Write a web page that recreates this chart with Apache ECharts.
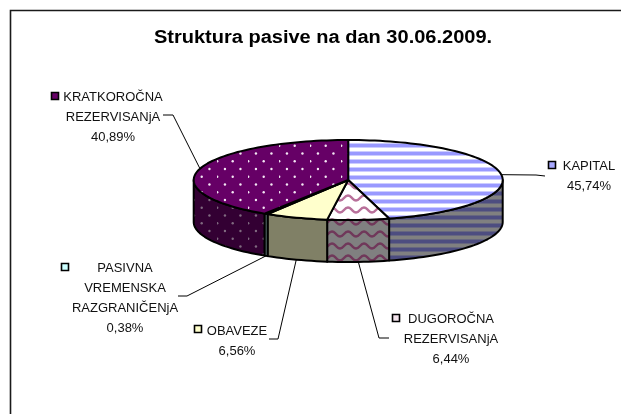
<!DOCTYPE html>
<html>
<head>
<meta charset="utf-8">
<title>Struktura pasive</title>
<style>
html,body{margin:0;padding:0;background:#fff;}
#chart{width:621px;height:414px;}
</style>
<script src="https://cdn.jsdelivr.net/npm/echarts@6/dist/echarts.min.js"></script>
</head>
<body>
<div id="chart"></div>
<script>
var titleText = 'Struktura pasive na dan 30.06.2009.';
var categories = ['KAPITAL', 'DUGOROČNA\nREZERVISANjA', 'OBAVEZE', 'PASIVNA\nVREMENSKA\nRAZGRANIČENjA', 'KRATKOROČNA\nREZERVISANjA'];
var values = [45.74, 6.44, 6.56, 0.38, 40.89];

// ellipse of the top face
var cx = 348.2, cy = 180, rx = 154.5, ry = 40, depth = 42;
var FONT = '"Liberation Sans", Arial, sans-serif';

// label layout, same order as categories
var textX = [589, 451, 237, 125, 113];
var textY = [166, 319, 331, 268, 97];
var keyPos = [[548, 161], [392, 314], [194, 325], [61, 263], [51, 92]];
var elbows = [[[536, 175], [545, 176]], [[379, 338], [389, 338]], [[278, 339], [269, 339]], [[187, 296], [178, 296]], [[173, 115], [163, 115]]];
var keyColors = ['#a8a8ff', '#f3e3ec', '#ffffcc', '#ccffff', '#660066'];

function newCanvas(w, h) {
    var c = document.createElement('canvas');
    c.width = w;
    c.height = h;
    return c;
}
function stripes(a, mid, b) {
    var c = newCanvas(4, 8), g = c.getContext('2d');
    var rows = [a, a, a, mid, b, b, b, mid];
    for (var i = 0; i < 8; i++) {
        g.fillStyle = rows[i];
        g.fillRect(0, i, 4, 1);
    }
    return {image: c, repeat: 'repeat'};
}
function dots(bg, fg) {
    var c = newCanvas(31, 31), g = c.getContext('2d');
    g.fillStyle = bg;
    g.fillRect(0, 0, 31, 31);
    g.fillStyle = fg;
    for (var r = 0; r < 4; r++) {
        var y = (21.7 + 7.75 * r) % 31;
        var x = (15.7 + 7.75 * r) % 15.5;
        for (; x < 31; x += 15.5) {
            g.beginPath();
            g.arc(x, y, 1.2, 0, Math.PI * 2);
            g.fill();
        }
    }
    return {image: c, repeat: 'repeat'};
}
function waves(bg, fg) {
    var c = newCanvas(16, 12), g = c.getContext('2d');
    g.fillStyle = bg;
    g.fillRect(0, 0, 16, 12);
    g.strokeStyle = fg;
    g.lineWidth = 2.4;
    g.beginPath();
    g.moveTo(-8, 6);
    g.quadraticCurveTo(-4, 1, 0, 6);
    g.quadraticCurveTo(4, 11, 8, 6);
    g.quadraticCurveTo(12, 1, 16, 6);
    g.quadraticCurveTo(20, 11, 24, 6);
    g.stroke();
    return {image: c, repeat: 'repeat'};
}

var topFills = [stripes('#9999ff', '#ccccff', '#ffffff'), waves('#ffffff', '#b8709a'), '#ffffcc', '#ccffff', dots('#660066', '#f4e8f4')];
var sideFills = [stripes('#4d4d80', '#666680', '#808080'), waves('#808080', '#70385a'), '#808066', '#668080', dots('#330033', '#806a80')];

var total = 0;
values.forEach(function (v) { total += v; });

function pt(deg, drop) {
    var a = deg * Math.PI / 180;
    return [cx + rx * Math.sin(a), cy - ry * Math.cos(a) + (drop || 0)];
}
function arc(a0, a1, drop) {
    var pts = [], n = Math.max(2, Math.ceil((a1 - a0) / 2));
    for (var i = 0; i <= n; i++) {
        pts.push(pt(a0 + (a1 - a0) * i / n, drop));
    }
    return pts;
}

function renderItem(params, api) {
    var i = params.dataIndex;
    var before = 0;
    for (var k = 0; k < i; k++) before += values[k];
    var a0 = before / total * 360;
    var a1 = (before + api.value(0)) / total * 360;
    var mid = (a0 + a1) / 2;
    var line = {stroke: '#000', lineWidth: 2, lineJoin: 'round'};
    var children = [];

    // outer wall, only the part facing the viewer
    var s0 = Math.max(a0, 90), s1 = Math.min(a1, 270);
    if (s1 > s0) {
        var wall = arc(s0, s1, 0).concat(arc(s0, s1, depth).reverse());
        children.push({
            type: 'polygon',
            shape: {points: wall},
            style: Object.assign({fill: sideFills[i]}, line)
        });
    }
    // top face
    children.push({
        type: 'polygon',
        z2: 5,
        shape: {points: [[cx, cy]].concat(arc(a0, a1, 0))},
        style: Object.assign({fill: topFills[i]}, line)
    });

    // leader line from the rim of the slice
    var front = mid > 90 && mid < 270;
    children.push({
        type: 'polyline',
        z2: 6,
        shape: {points: [pt(mid, front ? depth : 0)].concat(elbows[i])},
        style: {stroke: '#000', lineWidth: 1, fill: null}
    });
    // legend key
    children.push({
        type: 'rect',
        z2: 6,
        shape: {x: keyPos[i][0] + 0.5, y: keyPos[i][1] + 0.5, width: 7, height: 7},
        style: {fill: keyColors[i], stroke: '#000', lineWidth: 1.6}
    });
    // label text
    children.push({
        type: 'text',
        z2: 6,
        style: {
            x: textX[i],
            y: textY[i] - 10,
            text: categories[i] + '\n' + values[i].toFixed(2).replace('.', ',') + '%',
            align: 'center',
            verticalAlign: 'top',
            fontFamily: FONT,
            fontSize: 13,
            lineHeight: 20,
            fill: '#111'
        }
    });
    return {type: 'group', children: children};
}

var myChart = echarts.init(document.getElementById('chart'), null, {renderer: 'canvas'});
var option = {
    animation: false,
    backgroundColor: '#fff',
    graphic: [{
        type: 'polyline',
        shape: {points: [[10.5, 414], [10.5, 10.5], [621, 10.5]]},
        style: {stroke: '#1a1a1a', lineWidth: 1.6, fill: null}
    }, {
        // the reference title is set wider than the font, so stretch it
        type: 'text',
        x: 323,
        y: 38,
        scaleX: 1.112,
        style: {
            text: titleText,
            align: 'center',
            verticalAlign: 'middle',
            fontFamily: FONT,
            fontSize: 18,
            fontWeight: 'bold',
            fill: '#000'
        }
    }],
    series: [{
        type: 'custom',
        coordinateSystem: 'none',
        silent: true,
        renderItem: renderItem,
        data: values.map(function (v, i) {
            return {name: categories[i], value: [v]};
        })
    }]
};
myChart.setOption(option);
</script>
</body>
</html>
